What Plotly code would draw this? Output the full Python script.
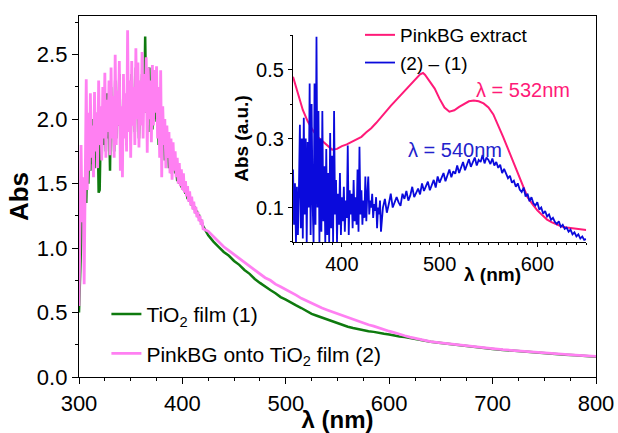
import plotly.graph_objects as go

# ---------------- main panel data ----------------
wl_noisy = list(range(300, 421))
pink_noisy = [0.55, 1.05, 1.80, 1.20, 1.55, 0.72, 1.75, 2.31, 1.45, 2.05,
              1.60, 2.20, 1.70, 1.95, 1.55, 2.21, 1.75, 2.05, 1.62, 2.30,
              1.80, 2.10, 1.68, 2.25, 1.85, 2.36, 1.70, 2.15, 1.90, 2.30,
              1.72, 2.40, 1.85, 2.18, 1.70, 2.50, 1.80, 2.22, 1.95, 2.45,
              1.60, 2.10, 1.55, 2.35, 1.85, 2.20, 1.75, 2.69, 1.90, 2.30,
              1.70, 2.45, 1.95, 2.25, 1.80, 2.55, 2.00, 2.44, 1.78, 2.30,
              1.95, 2.52, 1.85, 2.35, 2.05, 2.48, 1.74, 2.40, 2.00, 2.30,
              1.82, 2.42, 1.95, 2.38, 2.05, 2.41, 1.85, 2.25, 1.70, 2.38,
              1.55, 2.10, 1.80, 2.00, 1.62, 1.95, 1.70, 1.90, 1.58, 1.85,
              1.53, 1.82, 1.60, 1.75, 1.55, 1.70, 1.50, 1.66, 1.48, 1.61,
              1.45, 1.58, 1.43, 1.52, 1.40, 1.48, 1.36, 1.44, 1.33, 1.40,
              1.30, 1.36, 1.27, 1.32, 1.24, 1.28, 1.21, 1.25, 1.18, 1.22,
              1.15]
green_noisy = [0.50, 0.85, 1.10, 1.30, 1.20, 1.40, 1.55, 1.35, 1.70, 1.50,
               1.85, 1.60, 1.90, 1.65, 2.00, 1.62, 2.05, 1.70, 1.95, 1.43,
               1.45, 1.90, 1.72, 2.10, 1.80, 2.00, 1.75, 2.20, 1.85, 2.05,
               1.60, 2.25, 1.88, 2.10, 1.75, 2.30, 1.85, 2.15, 1.95, 2.35,
               1.80, 2.05, 1.70, 2.30, 1.90, 2.15, 1.80, 2.40, 1.92, 2.25,
               1.85, 2.35, 1.98, 2.20, 1.90, 2.40, 2.02, 2.30, 1.85, 2.20,
               1.98, 2.35, 2.22, 2.05, 2.64, 2.05, 2.30, 1.90, 2.40, 2.05,
               2.25, 1.92, 2.30, 2.00, 2.20, 1.98, 2.25, 1.80, 2.10, 1.75,
               1.95, 1.80, 1.92, 1.68, 1.85, 1.72, 1.80, 1.62, 1.75, 1.58,
               1.72, 1.62, 1.66, 1.58, 1.62, 1.52, 1.58, 1.50, 1.55, 1.47,
               1.52, 1.45, 1.48, 1.42, 1.45, 1.38, 1.42, 1.36, 1.38, 1.33,
               1.35, 1.30, 1.32, 1.27, 1.29, 1.24, 1.26, 1.21, 1.22, 1.19,
               1.17]

wl_smooth = [425, 430, 435, 440, 445, 450, 455, 460, 465, 470, 475, 480, 485,
             490, 495, 500, 505, 510, 515, 520, 525, 530, 535, 540, 545, 550,
             555, 560, 565, 570, 575, 580, 585, 590, 595, 600, 605, 610, 615,
             620, 625, 630, 640, 650, 660, 670, 680, 690, 700, 710, 720, 730,
             740, 750, 760, 770, 780, 790, 800]
pink_smooth = [1.13, 1.09, 1.05, 1.01, 0.98, 0.95, 0.92, 0.89, 0.86, 0.83,
               0.80, 0.77, 0.75, 0.72, 0.70, 0.68, 0.655, 0.635, 0.61, 0.59,
               0.57, 0.55, 0.535, 0.52, 0.505, 0.49, 0.475, 0.46, 0.445, 0.43,
               0.42, 0.405, 0.395, 0.38, 0.37, 0.355, 0.345, 0.33, 0.32, 0.31,
               0.30, 0.29, 0.275, 0.265, 0.255, 0.245, 0.24, 0.23, 0.22, 0.212,
               0.205, 0.198, 0.192, 0.186, 0.18, 0.175, 0.17, 0.165, 0.16]
green_smooth = [1.10, 1.05, 1.01, 0.97, 0.94, 0.90, 0.87, 0.83, 0.80, 0.76,
                0.73, 0.70, 0.675, 0.65, 0.62, 0.60, 0.575, 0.555, 0.535, 0.51,
                0.49, 0.475, 0.46, 0.445, 0.43, 0.415, 0.40, 0.39, 0.38, 0.37,
                0.36, 0.355, 0.35, 0.34, 0.335, 0.33, 0.32, 0.315, 0.31, 0.302,
                0.298, 0.29, 0.273, 0.263, 0.253, 0.243, 0.238, 0.228, 0.218, 0.21,
                0.203, 0.196, 0.19, 0.184, 0.178, 0.173, 0.168, 0.163, 0.158]

# ---------------- inset data ----------------
wl_extract = [350, 355, 360, 365, 370, 375, 380, 385, 390, 395, 400, 405, 410,
              415, 420, 425, 430, 435, 440, 445, 450, 455, 460, 465, 470, 475,
              480, 483, 485, 490, 495, 500, 505, 510, 515, 520, 525, 530, 535,
              540, 545, 550, 555, 560, 565, 570, 575, 580, 585, 590, 595, 600,
              605, 610, 615, 620, 625, 630, 635, 640, 645, 650]
extract = [0.479, 0.43, 0.383, 0.35, 0.325, 0.305, 0.293, 0.28, 0.268, 0.27,
           0.278, 0.283, 0.29, 0.296, 0.305, 0.318, 0.33, 0.345, 0.36, 0.378,
           0.395, 0.41, 0.425, 0.44, 0.455, 0.47, 0.486, 0.49, 0.485, 0.465,
           0.445, 0.415, 0.39, 0.378, 0.382, 0.392, 0.40, 0.408, 0.41, 0.408,
           0.402, 0.39, 0.37, 0.34, 0.305, 0.27, 0.235, 0.195, 0.16, 0.13,
           0.11, 0.092, 0.078, 0.065, 0.057, 0.05, 0.045, 0.042, 0.04, 0.038,
           0.036, 0.035]

wl_diff_a = list(range(350, 441))
diff_a = [0.21, 0.05, 0.17, 0.00, 0.16, 0.02, 0.15, 0.34, 0.04, 0.30,
          0.01, 0.36, 0.08, 0.30, 0.00, 0.29, 0.10, 0.46, 0.02, 0.40,
          0.12, 0.00, 0.46, 0.05, 0.595, 0.10, 0.38, 0.00, 0.30, 0.03,
          0.38, 0.06, 0.22, 0.00, 0.27, 0.02, 0.20, 0.00, 0.316, 0.04,
          0.25, 0.00, 0.38, 0.08, 0.18, 0.00, 0.14, 0.05, 0.20, 0.02,
          0.13, 0.06, 0.16, 0.03, 0.12, 0.07, 0.28, 0.02, 0.15, 0.08,
          0.14, 0.04, 0.18, 0.06, 0.13, 0.05, 0.21, 0.03, 0.276, 0.08,
          0.15, 0.05, 0.12, 0.07, 0.19, 0.06, 0.14, 0.19, 0.08, 0.12,
          0.10, 0.14, 0.07, 0.11, 0.09, 0.13, 0.04, 0.10, 0.08, 0.12,
          0.03]
wl_diff_b = list(range(442, 651, 2))
diff_b = [0.10, 0.125, 0.085, 0.11, 0.14, 0.10, 0.118, 0.13, 0.115, 0.105,
          0.14, 0.125, 0.148, 0.12, 0.135, 0.16, 0.13, 0.145, 0.155, 0.138,
          0.17, 0.148, 0.16, 0.175, 0.15, 0.168, 0.18, 0.158, 0.19, 0.172,
          0.185, 0.2, 0.176, 0.195, 0.21, 0.188, 0.205, 0.198, 0.222, 0.2,
          0.215, 0.232, 0.208, 0.225, 0.24, 0.218, 0.23, 0.245, 0.222, 0.238,
          0.232, 0.252, 0.228, 0.245, 0.238, 0.226, 0.242, 0.222, 0.232, 0.215,
          0.224, 0.2, 0.212, 0.196, 0.185, 0.192, 0.172, 0.178, 0.16, 0.17,
          0.152, 0.145, 0.158, 0.132, 0.14, 0.118, 0.13, 0.112, 0.106, 0.115,
          0.094, 0.1, 0.082, 0.09, 0.074, 0.08, 0.064, 0.07, 0.058, 0.052,
          0.06, 0.044, 0.05, 0.038, 0.042, 0.03, 0.036, 0.022, 0.028, 0.016,
          0.022, 0.01, 0.016, 0.006, 0.008]

FONT = "Arial, Liberation Sans, sans-serif"
GREEN = "#0E7A0E"
PINK = "#FF80F2"
HOTPINK = "#FF1A78"
BLUE = "#0A0ADC"

fig = go.Figure()
fig.add_trace(go.Scatter(x=wl_noisy + wl_smooth, y=green_noisy + green_smooth,
                         mode="lines", line=dict(color=GREEN, width=2.5),
                         name="TiO<sub>2</sub> film (1)", legend="legend",
                         legendgroup="a"))
fig.add_trace(go.Scatter(x=wl_noisy + wl_smooth, y=pink_noisy + pink_smooth,
                         mode="lines", line=dict(color=PINK, width=2.8),
                         name="PinkBG onto TiO<sub>2</sub> film (2)", legend="legend",
                         legendgroup="b"))
fig.add_trace(go.Scatter(x=wl_extract, y=extract, xaxis="x2", yaxis="y2",
                         mode="lines", line=dict(color=HOTPINK, width=2),
                         name="PinkBG extract", legend="legend2"))
fig.add_trace(go.Scatter(x=wl_diff_a + wl_diff_b, y=diff_a + diff_b, xaxis="x2", yaxis="y2",
                         mode="lines", line=dict(color=BLUE, width=1.8),
                         name="(2) \u2013 (1)", legend="legend2"))

axis_common = dict(showline=True, linecolor="black", linewidth=1.3, showgrid=False,
                   zeroline=False, ticks="outside", tickcolor="black", tickwidth=1.2,
                   automargin=False)

fig.update_layout(
    width=618, height=433,
    margin=dict(l=79, r=22, t=16, b=56),
    paper_bgcolor="white", plot_bgcolor="white",
    font=dict(family=FONT, color="black"),
    showlegend=True,
    xaxis=dict(**axis_common, domain=[0, 1], range=[300, 800], tick0=300, dtick=100,
               mirror=True, ticklen=6, tickfont=dict(size=22),
               minor=dict(dtick=25, ticks="outside", ticklen=3, tickcolor="black"),
               title=dict(text="<b>\u03bb (nm)</b>", font=dict(size=24), standoff=0)),
    yaxis=dict(**axis_common, domain=[0, 1], range=[0, 2.8], tick0=0, dtick=0.5,
               tickformat=".1f", mirror=True, ticklen=6, tickfont=dict(size=22),
               minor=dict(dtick=0.25, ticks="outside", ticklen=3, tickcolor="black"),
               title=dict(text="<b>Abs</b>", font=dict(size=26), standoff=0)),
    xaxis2=dict(**axis_common, domain=[0.414, 0.981], anchor="y2", range=[350, 650],
                tick0=400, dtick=100, ticklen=4, tickfont=dict(size=20),
                minor=dict(dtick=10, ticks="outside", ticklen=2, tickcolor="black")),
    yaxis2=dict(**axis_common, domain=[0.374, 0.947], anchor="x2", range=[0, 0.6],
                tick0=0.1, dtick=0.2, tickformat=".1f", ticklen=4, tickfont=dict(size=20),
                minor=dict(dtick=0.1, ticks="outside", ticklen=2, tickcolor="black"),
                title=dict(text="<b>Abs (a.u.)</b>", font=dict(size=19), standoff=2)),
    legend=dict(x=0.053, y=0.23, xanchor="left", yanchor="top", bgcolor="rgba(0,0,0,0)",
                font=dict(size=21), tracegroupgap=9, traceorder="grouped"),
    legend2=dict(x=0.5435, y=1.0, xanchor="left", yanchor="top",
                 bgcolor="rgba(0,0,0,0)", font=dict(size=19)),
    annotations=[
        dict(text="<b>\u03bb (nm)</b>", x=0.799, y=0.285, xref="paper", yref="paper",
             xanchor="center", yanchor="middle", showarrow=False, font=dict(size=19)),
        dict(text="\u03bb = 532nm", x=0.859, y=0.795, xref="paper", yref="paper",
             xanchor="center", yanchor="middle", showarrow=False,
             font=dict(size=20, color=HOTPINK)),
        dict(text="\u03bb = 540nm", x=0.727, y=0.629, xref="paper", yref="paper",
             xanchor="center", yanchor="middle", showarrow=False,
             font=dict(size=20, color="#2222CC")),
    ],
)

fig.write_html("out.html", config={"displayModeBar": False},
               post_script="document.body.style.margin='0px';")
